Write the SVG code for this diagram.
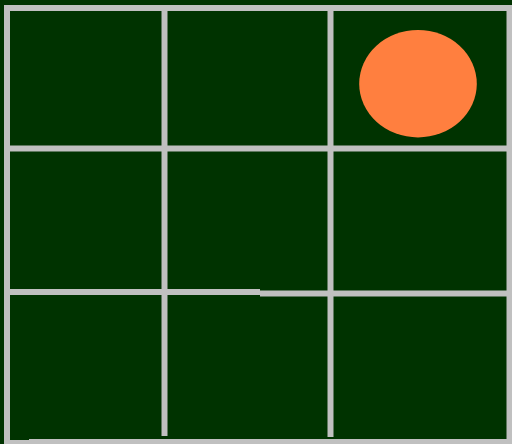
<svg xmlns="http://www.w3.org/2000/svg" width="512" height="444" viewBox="0 0 512 444">
<style>
.g{stroke:#c0c0c0;stroke-width:6;fill:none;stroke-linecap:butt}
</style>
<rect x="0" y="0" width="512" height="444" fill="#003300"/>
<g id="grid">
<line class="g" x1="4" y1="8" x2="512" y2="8"/>
<line class="g" x1="7" y1="5" x2="7" y2="444"/>
<line class="g" x1="509.5" y1="5" x2="509.5" y2="444"/>
<line class="g" x1="164.5" y1="8" x2="164.5" y2="436"/>
<line class="g" x1="330.5" y1="8" x2="330.5" y2="437"/>
<line class="g" x1="7" y1="148.5" x2="509" y2="148.5"/>
<line class="g" x1="7" y1="292" x2="260" y2="292"/>
<line class="g" x1="260" y1="293.5" x2="509" y2="293.5"/>
<line class="g" x1="7" y1="443" x2="29" y2="443"/>
<line class="g" x1="29" y1="442" x2="512" y2="442"/>
</g>
<g id="circle">
<ellipse cx="418" cy="83.7" rx="58.8" ry="53.7" fill="#ff7f3f"/>
</g>
</svg>
